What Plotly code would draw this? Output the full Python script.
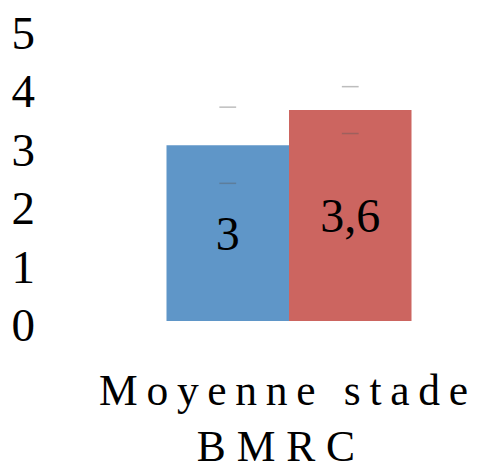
import plotly.graph_objects as go

categories = ["Moyenne stade BMRC"]
category_text = ["M\u2009o\u2009y\u2009e\u2009n\u2009n\u2009e\u2009 \u2009s\u2009t\u2009a\u2009d\u2009e\u00a0<br>B\u00a0M\u00a0R\u00a0C\u2009\u2009\u2009"]
series_names = ["Groupe 1", "Groupe 2"]
series_values = [[3.0], [3.6]]
series_labels = [["3"], ["3,6"]]
series_errors = [[0.65], [0.4]]
series_colors = ["#5F96C8", "#CC6560"]
y_ticks = [0, 1, 2, 3, 4, 5]

FONT = "Liberation Serif, Times New Roman, serif"
GAP = 0.105

fig = go.Figure()
for name, vals, labs, col in zip(series_names, series_values, series_labels, series_colors):
    fig.add_trace(go.Bar(
        x=categories, y=vals, name=name, offsetgroup=name,
        marker=dict(color=col, line=dict(width=0)),
        text=labs, textposition="inside", insidetextanchor="middle",
        textfont=dict(family=FONT, size=48, color="black"),
        textangle=0, hoverinfo="skip",
    ))
for name, vals, errs in zip(series_names, series_values, series_errors):
    ys = []
    xs = []
    for c, v, e in zip(categories, vals, errs):
        xs += [c, c]
        ys += [v + e, v - e]
    fig.add_trace(go.Scatter(
        x=xs, y=ys, mode="markers", offsetgroup=name, showlegend=False,
        marker=dict(symbol="line-ew", size=12, color="rgba(90,90,90,0.4)",
                    line=dict(width=1.5, color="rgba(90,90,90,0.4)")),
        hoverinfo="skip",
    ))

fig.update_layout(
    width=486, height=472,
    margin=dict(l=32, r=16, t=20, b=159, autoexpand=False),
    barmode="group", bargap=GAP, bargroupgap=0,
    scattermode="group", scattergap=GAP,
    showlegend=False,
    plot_bgcolor="white", paper_bgcolor="white",
    font=dict(family=FONT, color="black"),
    uniformtext=dict(mode=False),
)
fig.update_xaxes(
    type="category", range=[-0.9096, 0.6904],
    tickvals=categories, ticktext=category_text,
    tickfont=dict(family=FONT, size=43.5, color="black"),
    showgrid=False, showline=False, zeroline=False, ticks="",
    ticklabelstandoff=39, automargin=False, ticklabeloverflow="allow",
)
fig.update_yaxes(
    range=[0, 5.001], tickvals=y_ticks, ticktext=[str(t) for t in y_ticks],
    tickfont=dict(family=FONT, size=47, color="black"),
    showgrid=False, showline=False, zeroline=False, ticks="",
    ticklabelstandoff=4, automargin=False, ticklabeloverflow="allow",
    ticklabelshift=4,
)
fig.write_html("out.html")
